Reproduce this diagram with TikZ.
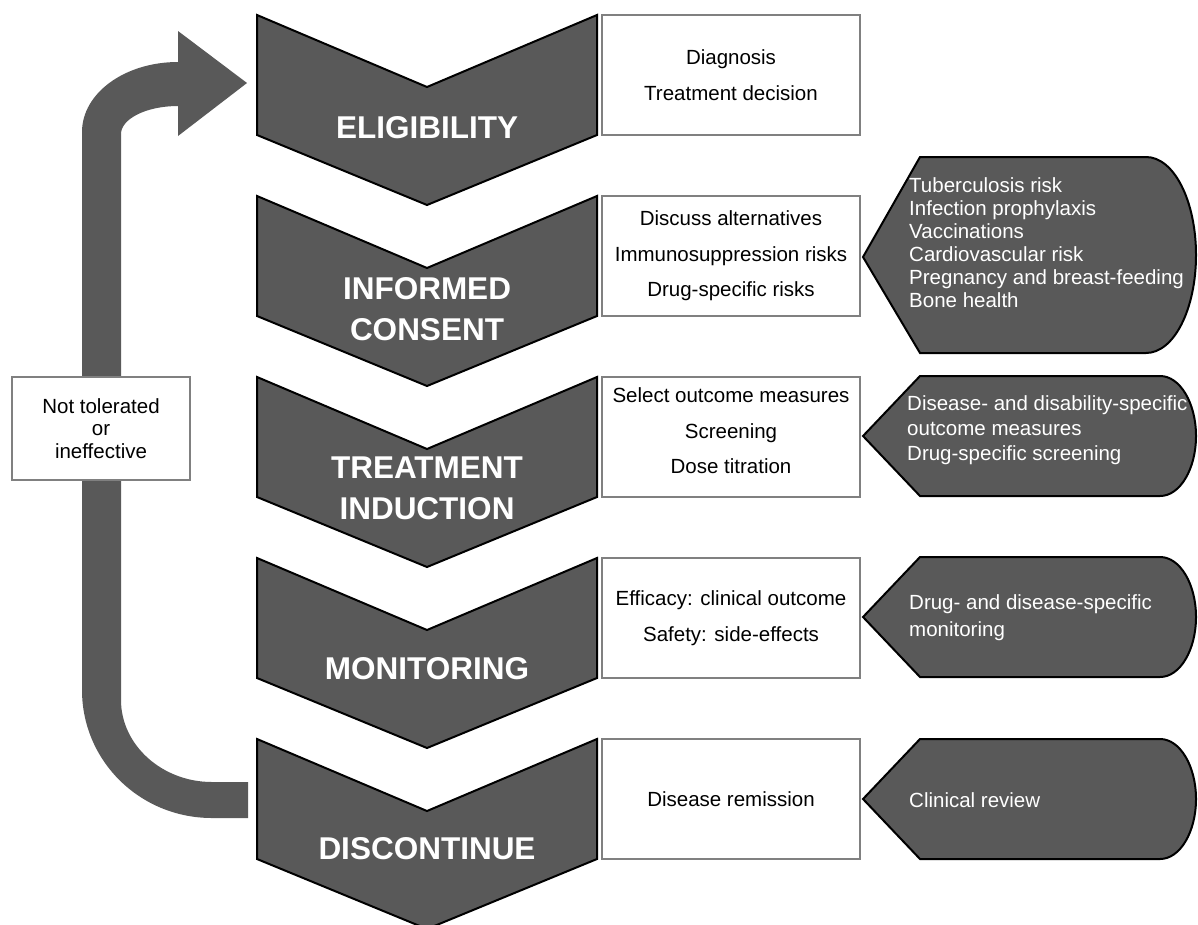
\documentclass[tikz,border=0pt]{standalone}
\usepackage{fontspec}
\setmainfont{Liberation Sans}
\usetikzlibrary{positioning}

\definecolor{stagegray}{HTML}{595959}
\definecolor{boxgray}{HTML}{808080}

\tikzset{
  chevron/.style={fill=stagegray,draw=black,line width=2pt,line join=miter},
  stage/.style={text=white,font=\fontsize{31.5}{41}\selectfont\bfseries,align=center,inner sep=0pt},
  infobox/.style={draw=boxgray,line width=2pt,fill=white,minimum width=258pt,minimum height=120pt,
    inner sep=0pt,align=center,font=\fontsize{20.5}{35.5}\selectfont},
  tag/.style={fill=stagegray,draw=black,line width=2pt,line join=miter},
  tagtext/.style={text=white,align=left,anchor=west,inner sep=0pt}
}

\begin{document}
\begin{tikzpicture}[x=1pt,y=-1pt]
  \useasboundingbox (0,0) rectangle (1198,924);

  % loop-back arrow
  \fill[stagegray] (82,690) -- (82,132) .. controls (82,93) and (125,62) .. (178,62)
    -- (178,31) -- (247,83) -- (178,136) -- (178,106)
    .. controls (146,106) and (121,119) .. (121,134) -- (121,700)
    .. controls (121,745) and (162,782) .. (212,782) -- (248,782) -- (248,818) -- (212,818)
    .. controls (140,818) and (82,761) .. (82,690) -- cycle;
  \node[draw=boxgray,line width=2pt,fill=white,minimum width=178pt,minimum height=103pt,
    align=center,font=\fontsize{20.5}{22.5}\selectfont] (back) at (101,428.5)
    {Not tolerated\\or\\ineffective};

  % stages
  \foreach \t in {15,196,377,558,739}
    \draw[chevron] (257,\t) -- (427,\t+72) -- (597,\t) -- (597,\t+120) -- (427,\t+190) -- (257,\t+120) -- cycle;
  \node[stage] (elig) at (427,128) {ELIGIBILITY};
  \node[stage] (consent) at (427,309) {INFORMED\\CONSENT};
  \node[stage] (induct) at (427,488) {TREATMENT\\INDUCTION};
  \node[stage] (monitor) at (427,669) {MONITORING};
  \node[stage] (discont) at (427,849) {DISCONTINUE};

  % what is done at each stage
  \node[infobox] (elig-box) at (731,75) {Diagnosis\\Treatment decision};
  \node[infobox] (consent-box) at (731,256) {Discuss alternatives\\Immunosuppression risks\\Drug-specific risks};
  \node[infobox,text depth=12pt] (induct-box) at (731,437) {Select outcome measures\\Screening\\Dose titration};
  \node[infobox] (monitor-box) at (731,618) {Efficacy: clinical outcome\\Safety: side-effects};
  \node[infobox] (discont-box) at (731,799) {Disease remission};

  % specific points
  \draw[tag] (863,257) -- (920,157) -- (1146,157) .. controls (1174,157) and (1196,201) .. (1196,255)
    .. controls (1196,309) and (1174,353) .. (1146,353) -- (920,353) -- cycle;
  \foreach \t in {376,557,739}
    \draw[tag] (863,\t+60) -- (920,\t) -- (1160,\t) .. controls (1180,\t) and (1196,\t+27) .. (1196,\t+60)
      .. controls (1196,\t+93) and (1180,\t+120) .. (1160,\t+120) -- (920,\t+120) -- cycle;
  \node[tagtext,font=\fontsize{20.5}{23}\selectfont] (consent-note) at (909,243)
    {Tuberculosis risk\\Infection prophylaxis\\Vaccinations\\Cardiovascular risk\\Pregnancy and breast-feeding\\Bone health};
  \node[tagtext,font=\fontsize{20.5}{25}\selectfont] (induct-note) at (907,430)
    {Disease- and disability-specific\\outcome measures\\Drug-specific screening};
  \node[tagtext,font=\fontsize{20.5}{27}\selectfont] (monitor-note) at (909,618)
    {Drug- and disease-specific\\monitoring};
  \node[tagtext,font=\fontsize{20.5}{25}\selectfont] (discont-note) at (909,800)
    {Clinical review};

\end{tikzpicture}
\end{document}
